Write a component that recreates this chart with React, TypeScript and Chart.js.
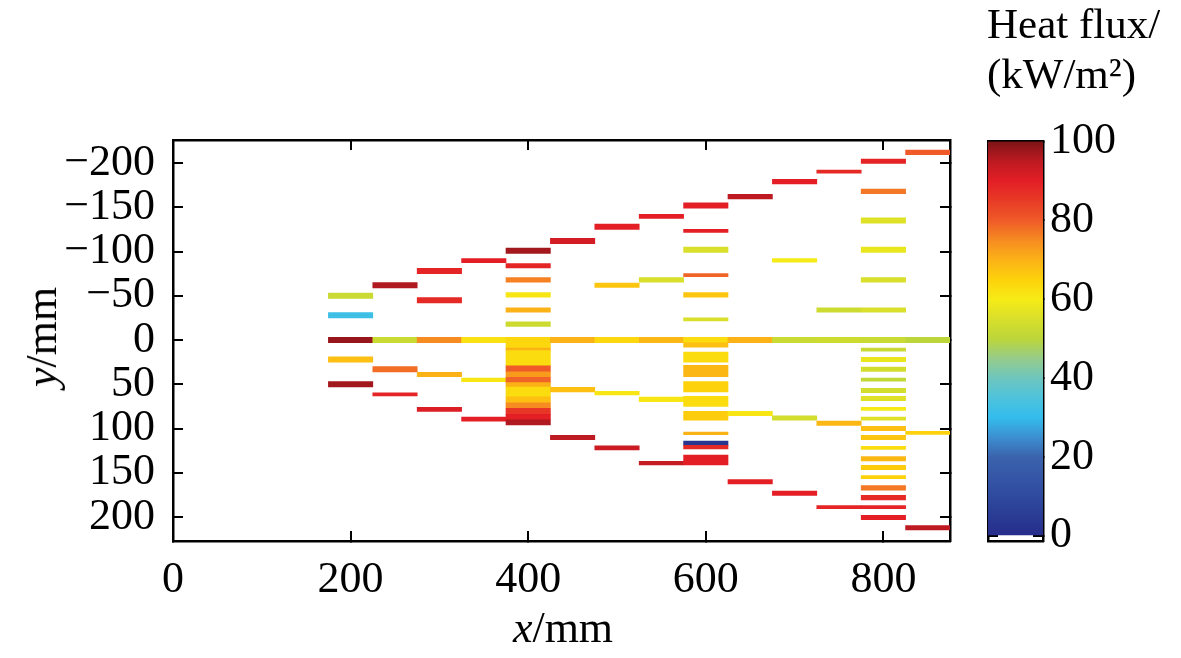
import React, { useEffect, useRef } from 'react';
import { Chart, registerables } from 'chart.js';

Chart.register(...registerables);

// ---------- data ----------
const xTicks = [0, 200, 400, 600, 800];
const yTicks = [-200, -150, -100, -50, 0, 50, 100, 150, 200];
const cbTicks = [0, 20, 40, 60, 80, 100];

// column centres (mm); every column is 50 mm wide
const xCenters = [200, 250, 300, 350, 400, 450, 500, 550, 600, 650, 700, 750, 800, 850];

// cells per column: [yFrom, yTo, heat flux kW/m2]
const col200 = [[-53, -47, 52], [-31, -25, 32], [-3, 3, 98], [19, 25, 68], [47, 53, 97]];
const col250 = [[-65, -59, 96], [-3, 3, 52], [30, 36, 78], [59.5, 63, 89]];
const col300 = [[-81, -75, 89], [-48, -42, 88], [-3, 3, 75], [36.5, 41.5, 70], [76, 80.5, 91]];
const col350 = [[-92, -87.5, 90], [-3, 3, 62], [43, 47, 61], [87, 91.5, 90]];
const col400 = [
  [-104, -98, 97], [-86.5, -81.5, 89], [-70.5, -65.5, 76], [-53.5, -48.5, 61], [-36.5, -31.5, 70],
  [-20.5, -15.5, 53], [-3, 3, 64], [3, 9, 64], [9, 12, 70], [12, 29, 63], [29, 36, 80], [36, 42, 73],
  [42, 48, 79], [48, 53, 70], [53, 64, 63], [64, 71, 68], [71, 77, 75], [77, 84, 86], [84, 90, 90], [90, 96, 96],
];
const col450 = [[-115, -109, 92], [-3, 3, 70], [53.5, 58.5, 68], [107.5, 112.5, 95]];
const col500 = [[-131, -125, 90], [-64.5, -59.5, 67], [-3, 3, 64], [58, 62, 61], [119.5, 124, 93]];
const col550 = [[-142, -137.5, 90], [-70.5, -65.5, 55], [-3, 3, 69], [64.5, 69.5, 61], [137, 141, 94]];
const col600 = [
  [-155, -149, 90], [-125, -121.5, 90], [-105, -99, 55], [-75, -71.5, 79], [-53.5, -48.5, 67],
  [-25, -21.5, 55], [-3, 3, 63], [3, 8, 68], [13.5, 25, 63], [28.5, 41.5, 69], [47, 58.5, 65],
  [63.5, 75, 63], [80.5, 90.5, 66], [104, 107, 70], [114, 119, 3], [119, 123, 88], [130, 141, 90],
];
const col650 = [[-164.5, -159.5, 95], [-3, 3, 70], [80.5, 85.5, 61], [157.5, 162.5, 90]];
const col700 = [[-181.5, -176.5, 90], [-92, -88, 60], [-3, 3, 52], [85.5, 90.5, 54], [170.5, 175.5, 90]];
const col750 = [[-192, -188.5, 88], [-36.5, -31.5, 53], [-3, 3, 53], [91.5, 96.5, 69], [187, 190.5, 89]];
const col800 = [
  [-204.5, -199.5, 89], [-170.5, -165.5, 77], [-138, -132, 56], [-105, -99, 58], [-70.5, -65.5, 55],
  [-36.5, -31.5, 55], [-3, 3, 52], [9, 12.5, 52], [19.5, 24.5, 58], [30.5, 35.5, 54], [43, 46.5, 51],
  [54.5, 59.5, 54], [63.5, 68.5, 56], [76, 79.5, 60], [87, 90.5, 56], [97.5, 102.5, 68], [107.5, 112.5, 67],
  [120, 123.5, 63], [131.5, 136.5, 69], [141.5, 146.5, 66], [153, 156.5, 65], [164.5, 169.5, 77],
  [175.5, 180.5, 88], [187, 190.5, 89], [198, 203, 90],
];
const col850 = [[-214.5, -209.5, 80], [-3, 3, 50], [103, 106.5, 65], [209.5, 214.5, 95]];

const columns = [col200, col250, col300, col350, col400, col450, col500, col550, col600, col650, col700, col750, col800, col850];

// colour map
const cmapVals = [0, 10, 20, 25, 30, 35, 40, 45, 50, 55, 60, 65, 70, 75, 80, 85, 90, 95, 100];
const cmapCols = [
  '#262d8a', '#2f4a9f', '#3b63ad', '#3c8fd0', '#33bced', '#4ec3dc', '#6ec6be', '#96cc8a', '#bcd639',
  '#d9df2b', '#f6eb16', '#fdd20b', '#fbb217', '#f68b21', '#ef5a28', '#e83b26', '#e31e25', '#bd1a22', '#7d1416',
];

const SERIF = "'Liberation Serif', 'Times New Roman', serif";

function hexToRgb(h: string) {
  const n = parseInt(h.slice(1), 16);
  return [(n >> 16) & 255, (n >> 8) & 255, n & 255];
}
function cmap(v: number) {
  const t = Math.max(0, Math.min(100, v));
  let i = 0;
  while (i < cmapVals.length - 2 && t > cmapVals[i + 1]) i++;
  const f = (t - cmapVals[i]) / (cmapVals[i + 1] - cmapVals[i]);
  const a = hexToRgb(cmapCols[i]);
  const b = hexToRgb(cmapCols[i + 1]);
  const c = a.map((av, k) => Math.round(av + (b[k] - av) * f));
  return `rgb(${c[0]},${c[1]},${c[2]})`;
}

const setTicks = (vals: number[]) => (scale: any) => {
  scale.ticks = vals.map((v) => ({ value: v }));
};
const fixWidth = (w: number) => (scale: any) => {
  scale.width = w;
};
const fixHeight = (h: number) => (scale: any) => {
  scale.height = h;
};
const fmt = (v: any) => (Number(v) < 0 ? '\u2212' + Math.abs(Number(v)) : String(v));

const tickGrid = {
  display: true,
  drawOnChartArea: false,
  drawTicks: true,
  tickLength: -10,
  color: '#000',
  lineWidth: 2,
};
const border = { display: true, color: '#000', width: 2.5 };
const tickFont = { family: SERIF, size: 44 };

export default function App() {
  const mainRef = useRef<HTMLCanvasElement>(null);
  const cbRef = useRef<HTMLCanvasElement>(null);

  useEffect(() => {
    const points: any[] = [];
    const colors: string[] = [];
    columns.forEach((col, i) => {
      col.forEach((c) => {
        points.push({ x: xCenters[i], y: [c[0], c[1]] });
        colors.push(cmap(c[2]));
      });
    });

    const xCommon = {
      type: 'linear' as const,
      min: 0,
      max: 875,
      offset: false,
      afterBuildTicks: setTicks(xTicks),
      border,
      z: 1,
    };
    const yCommon = {
      type: 'linear' as const,
      min: -226,
      max: 227,
      reverse: true,
      afterBuildTicks: setTicks(yTicks),
      border,
      z: 1,
    };

    const main = new Chart(mainRef.current!, {
      type: 'bar',
      data: {
        datasets: [
          {
            data: points,
            backgroundColor: colors,
            borderWidth: 0,
            barPercentage: 1,
            categoryPercentage: 1,
          },
        ],
      },
      options: {
        responsive: false,
        animation: false,
        layout: { padding: { top: 140, right: 20, bottom: 0, left: 0 } },
        plugins: { legend: { display: false }, tooltip: { enabled: false } },
        scales: {
          x: {
            ...xCommon,
            position: 'bottom',
            grid: { ...tickGrid, offset: false },
            ticks: { font: tickFont, color: '#000', padding: 23, maxRotation: 0, autoSkip: false },
            afterFit: fixHeight(117),
          },
          x2: {
            ...xCommon,
            position: 'top',
            grid: { ...tickGrid, offset: false },
            ticks: { display: false },
            afterFit: fixHeight(0),
          },
          y: {
            ...yCommon,
            position: 'left',
            grid: tickGrid,
            ticks: { font: tickFont, color: '#000', padding: 28, callback: fmt, autoSkip: false },
            afterFit: fixWidth(173),
          },
          y2: {
            ...yCommon,
            position: 'right',
            grid: tickGrid,
            ticks: { display: false },
            afterFit: fixWidth(0),
          },
        },
      } as any,
    });

    const cb = new Chart(cbRef.current!, {
      type: 'bar',
      data: {
        labels: [''],
        datasets: [
          {
            data: [[0, 100]] as any,
            backgroundColor: (ctx: any) => {
              const chart = ctx.chart;
              const ys = chart.scales.y;
              if (!chart.chartArea || !ys) return '#fff';
              const g = chart.ctx.createLinearGradient(0, ys.getPixelForValue(0), 0, ys.getPixelForValue(100));
              cmapVals.forEach((v, i) => g.addColorStop(v / 100, cmapCols[i]));
              return g;
            },
            borderWidth: 0,
            barPercentage: 1,
            categoryPercentage: 1,
          },
        ],
      },
      options: {
        responsive: false,
        animation: false,
        layout: { padding: { top: 141.5, right: 0, bottom: 117, left: 18 } },
        plugins: { legend: { display: false }, tooltip: { enabled: false } },
        scales: {
          x: {
            type: 'category',
            position: 'bottom',
            border,
            z: 1,
            grid: { display: true, drawOnChartArea: false, drawTicks: false },
            ticks: { display: false },
            afterFit: fixHeight(0),
          },
          xTop: {
            type: 'category',
            position: 'top',
            border,
            z: 1,
            grid: { display: true, drawOnChartArea: false, drawTicks: false },
            ticks: { display: false },
            afterFit: fixHeight(0),
          },
          y: {
            type: 'linear',
            position: 'right',
            min: -1.3,
            max: 100,
            afterBuildTicks: setTicks(cbTicks),
            border,
            z: 1,
            grid: tickGrid,
            ticks: { font: tickFont, color: '#000', padding: 17 },
            afterFit: fixWidth(138),
          },
          yLeft: {
            type: 'linear',
            position: 'left',
            min: -1.3,
            max: 100,
            afterBuildTicks: setTicks(cbTicks),
            border,
            z: 1,
            grid: tickGrid,
            ticks: { display: false },
            afterFit: fixWidth(0),
          },
        },
      } as any,
    });

    return () => {
      main.destroy();
      cb.destroy();
    };
  }, []);

  const txt: React.CSSProperties = {
    position: 'absolute',
    fontFamily: SERIF,
    lineHeight: 1,
    whiteSpace: 'nowrap',
    color: '#000',
  };

  return (
    <div
      style={{
        position: 'absolute',
        left: 0,
        top: 0,
        width: 1181,
        height: 658,
        overflow: 'hidden',
        background: '#fff',
      }}
    >
      <canvas ref={mainRef} width={970} height={658} style={{ position: 'absolute', left: 0, top: 0 }} />
      <canvas ref={cbRef} width={211} height={658} style={{ position: 'absolute', left: 970, top: 0 }} />
      <div style={{ ...txt, fontSize: 44, left: 563, top: 606, transform: 'translateX(-50%)' }}>
        <i>x</i>/mm
      </div>
      <div
        style={{
          ...txt,
          fontSize: 44,
          left: 42,
          top: 337,
          transform: 'translate(-50%, -50%) rotate(-90deg)',
        }}
      >
        <i>y</i>/mm
      </div>
      <div style={{ ...txt, fontSize: 43, left: 987, top: 2 }}>Heat flux/</div>
      <div style={{ ...txt, fontSize: 43, left: 987, top: 52 }}>(kW/m²)</div>
    </div>
  );
}
